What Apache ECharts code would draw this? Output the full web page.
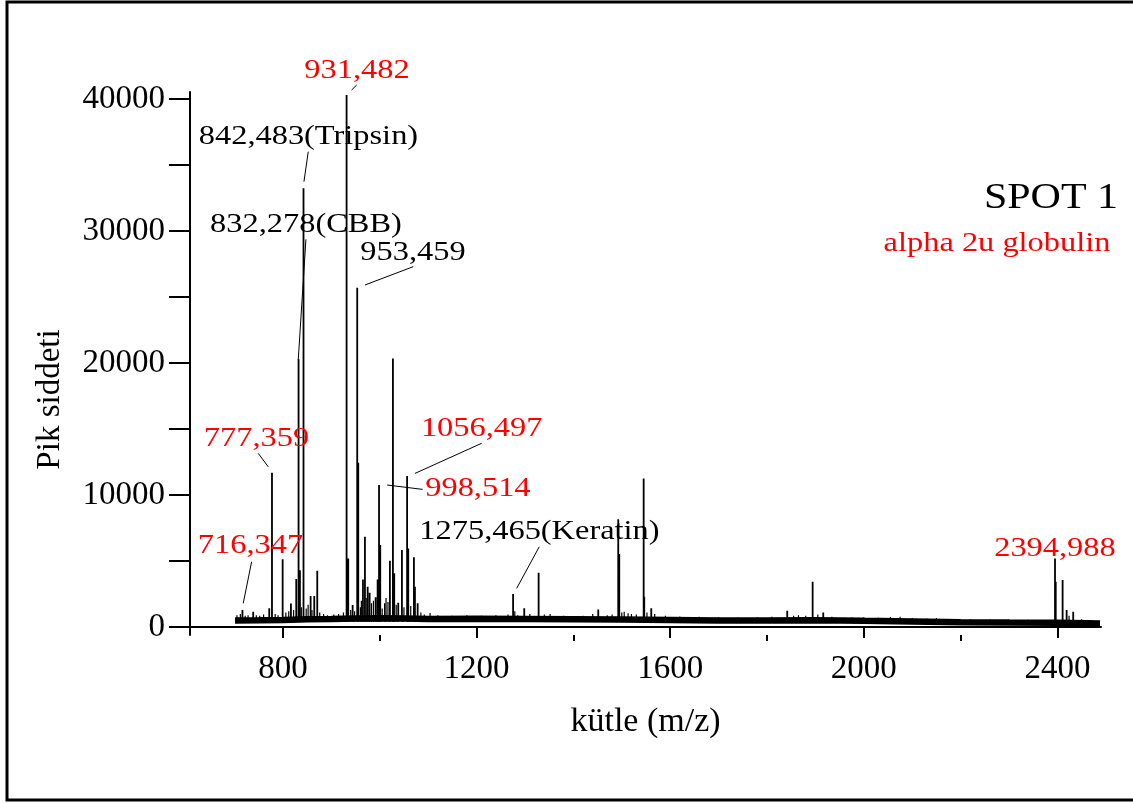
<!DOCTYPE html>
<html>
<head>
<meta charset="utf-8">
<title>SPOT 1 - alpha 2u globulin</title>
<script src="https://cdn.jsdelivr.net/npm/echarts@6.0.0/dist/echarts.min.js"></script>
<style>
    html, body { margin: 0; padding: 0; background: #fff; }
    #chart { width: 1133px; height: 803px; }
</style>
</head>
<body>
<div id="chart"></div>
<script>
// peaks (m/z, intensity)
const peakMz = [716.347, 738.6, 771.7, 777.359, 799.4, 816.5, 827.5, 832.278, 835.1, 842.483,
    857.2, 864.7, 870.9, 931.482, 934.9, 944.0, 953.459, 955.6, 965.3, 969.4, 975.0, 979.1,
    991.5, 995.6, 998.514, 1001.0, 1021.0, 1027.2, 1029.9, 1038.2, 1045.8, 1056.497, 1058.9,
    1070.6, 1072.7, 1078.3, 1275.465, 1298.5, 1328.2, 1451.4, 1492.7, 1494.8, 1545.2, 1546.4,
    1560.9, 1841.8, 1894.3, 1916.2, 2394.988, 2396.5, 2410.7, 2419.0, 2432.6];
const peakInt = [1290, 1160, 1420, 11690, 5130, 1790, 3640, 20280, 4300, 33230,
    2350, 2350, 4270, 40300, 5200, 1670, 25700, 12450, 3610, 6840, 3050, 2600,
    2250, 3610, 10760, 6210, 5020, 20350, 4070, 1840, 5830, 11440, 5960,
    5280, 3050, 1800, 2500, 1420, 4110, 1340, 8160, 5530, 11260, 2300,
    1420, 1240, 3430, 1100, 5200, 3430, 3560, 1290, 1160];

// small spikes sitting on the noise band
const spikeMz = [705, 712, 722, 728, 745, 752, 760, 784, 790, 806, 812, 822, 838, 848, 852, 860,
    876, 884, 892, 905, 915, 925, 940, 948, 960, 962, 972, 983, 987, 1005, 1010, 1013, 1017,
    1034, 1050, 1064, 1085, 1092, 1104, 1120, 1150, 1180, 1210, 1240, 1265, 1279, 1285, 1310,
    1340, 1352, 1380, 1420, 1440, 1470, 1480, 1500, 1505, 1513, 1520, 1530, 1552, 1568, 1590,
    1620, 1660, 1700, 1740, 1780, 1810, 1855, 1865, 1880, 1905, 1934, 1960, 1975, 2000, 2030,
    2055, 2075, 2100, 2130, 2150, 2180, 2220, 2260, 2300, 2340, 2370, 2424, 2450, 2470];
const spikeInt = [900, 1000, 850, 900, 900, 850, 950, 1000, 900, 1100, 1200, 1300, 1500, 1400, 1700, 1300,
    1100, 1000, 900, 950, 1000, 1100, 1300, 1200, 1500, 2000, 2200, 1800, 2000, 1400, 1800, 2200, 1900,
    1700, 1500, 1600, 1100, 950, 1060, 900, 850, 900, 850, 900, 950, 1200, 900, 1000,
    950, 985, 850, 850, 1000, 900, 950, 1100, 1160, 1040, 1000, 950, 1100, 1000, 850,
    800, 780, 750, 720, 750, 780, 850, 900, 850, 950, 780, 700, 720, 740, 700,
    760, 780, 680, 650, 680, 620, 600, 580, 560, 550, 540, 850, 600, 520];

// level of the noise band
const baseMz = [701, 750, 800, 850, 900, 950, 1000, 1050, 1100, 1200, 1300, 1400, 1500, 1600,
    1700, 1800, 1900, 2000, 2100, 2200, 2300, 2400, 2488];
const baseInt = [500, 510, 540, 600, 620, 650, 660, 650, 620, 640, 620, 600, 580, 540,
    500, 500, 520, 470, 430, 370, 340, 320, 280];

// axis ticks
const xMajor = [800, 1200, 1600, 2000, 2400];
const xMinor = [1000, 1400, 1800, 2200];
const yTicks = [0, 5000, 10000, 15000, 20000, 25000, 30000, 35000, 40000];
const yLabels = [0, 10000, 20000, 30000, 40000];

const red = '#ff0000';
const serif = "'Liberation Serif', 'Times New Roman', serif";
const stickFloor = 400;
const stretch = 1.2; // the source picture is widened a little

// peak labels and leader lines, placed in data space
const notes = [
    { text: '931,482', color: red, at: [953, 42120], line: [[941.9, 40680], [952.3, 41060]] },
    { text: '842,483(Tripsin)', color: '#000', at: [852.7, 37120], line: [[852.3, 36010], [843.4, 33740]] },
    { text: '832,278(CBB)', color: '#000', at: [847.5, 30450], line: [[847.5, 29370], [831.6, 20230]] },
    { text: '953,459', color: '#000', at: [1068.6, 28330], line: [[1069.2, 27300], [969.4, 25910]] },
    { text: '777,359', color: red, at: [745.3, 14240], line: [[749, 13160], [769.6, 12140]] },
    { text: '716,347', color: red, at: [732.9, 6140], line: [[735.3, 4950], [718, 1800]] },
    { text: '1056,497', color: red, at: [1210.5, 15000], line: [[1210.5, 13920], [1072.7, 11640]] },
    { text: '998,514', color: red, at: [1202.8, 10450], line: [[1088.6, 10430], [1015.5, 10760]] },
    { text: '1275,465(Keratin)', color: '#000', at: [1329.9, 7200], line: [[1329.5, 6080], [1282.8, 2930]] },
    { text: '2394,988', color: red, at: [2394.9, 5910] }
];

function sticks(mz, h) {
    const out = [];
    mz.forEach(function (m, i) {
        out.push([m, stickFloor], [m, h[i]], [m, '-']);
    });
    return out;
}

function plain(v) { return String(v); }

function label(x, y, text, color, size) {
    return {
        type: 'text', x: x, y: y, scaleX: stretch, z: 10,
        style: { text: text, fill: color, font: size + 'px ' + serif,
                 align: 'center', verticalAlign: 'middle', textAlign: 'center', textVerticalAlign: 'middle' }
    };
}

const chart = echarts.init(document.getElementById('chart'));

const option = {
    animation: false,
    backgroundColor: '#fff',
    grid: { left: 190, right: 32, top: 92, bottom: 168, outerBoundsMode: 'none' },
    xAxis: [
        {
            type: 'value', min: 608, max: 2490, position: 'bottom',
            name: 'kütle (m/z)', nameLocation: 'middle', nameGap: 70,
            nameTextStyle: { fontFamily: serif, fontSize: 34, color: '#000' },
            axisLine: { lineStyle: { color: '#000', width: 2 } },
            axisTick: { customValues: xMajor, length: 11, lineStyle: { color: '#000', width: 2 } },
            axisLabel: { customValues: xMajor, formatter: plain, fontFamily: serif, fontSize: 33, color: '#000', margin: 18 },
            splitLine: { show: false }
        },
        {
            type: 'value', min: 608, max: 2490, position: 'bottom',
            axisLine: { show: false },
            axisTick: { customValues: xMinor, length: 6, lineStyle: { color: '#000', width: 2 } },
            axisLabel: { show: false },
            splitLine: { show: false }
        }
    ],
    yAxis: {
        type: 'value', min: -600, max: 40530,
        name: 'Pik siddeti', nameLocation: 'middle', nameGap: 123,
        nameTextStyle: { fontFamily: serif, fontSize: 33, color: '#000', padding: [0, 72, 0, 0] },
        axisLine: { show: true, lineStyle: { color: '#000', width: 2 } },
        axisTick: { show: true, customValues: yTicks, length: 21, lineStyle: { color: '#000', width: 2 } },
        axisLabel: { customValues: yLabels, formatter: plain, fontFamily: serif, fontSize: 33, color: '#000', margin: 25 },
        splitLine: { show: false }
    },
    series: [
        {
            name: 'baseline', type: 'line', showSymbol: false, symbol: 'none',
            data: baseMz.map(function (m, i) { return [m, baseInt[i]]; }),
            lineStyle: { color: '#000', width: 6.5 }
        },
        {
            name: 'spikes', type: 'line', showSymbol: false, symbol: 'none', connectNulls: false,
            data: sticks(spikeMz, spikeInt),
            lineStyle: { color: '#000', width: 1.2 }
        },
        {
            name: 'peaks', type: 'line', showSymbol: false, symbol: 'none', connectNulls: false,
            data: sticks(peakMz, peakInt),
            lineStyle: { color: '#000', width: 1.8 }
        }
    ]
};
chart.setOption(option);

function placeNotes() {
    const px = function (p) { return chart.convertToPixel({ xAxisIndex: 0, yAxisIndex: 0 }, p); };
    const els = [
        { type: 'rect', shape: { x: 7, y: 2, width: 1160, height: 798 },
          style: { fill: 'none', stroke: '#000', lineWidth: 3 }, z: 10 },
        label(1051, 199, 'SPOT 1', '#000', 35),
        label(997, 244, 'alpha 2u globulin', red, 27)
    ];
    notes.forEach(function (n) {
        const a = px(n.at);
        els.push(label(a[0], a[1], n.text, n.color, 27));
        if (n.line) {
            const p1 = px(n.line[0]), p2 = px(n.line[1]);
            els.push({ type: 'line', z: 10,
                shape: { x1: p1[0], y1: p1[1], x2: p2[0], y2: p2[1] },
                style: { stroke: '#000', lineWidth: 1 } });
        }
    });
    chart.setOption({ graphic: { elements: els } });
}
placeNotes();

window.addEventListener('resize', function () {
    chart.resize();
    placeNotes();
});
</script>
</body>
</html>
